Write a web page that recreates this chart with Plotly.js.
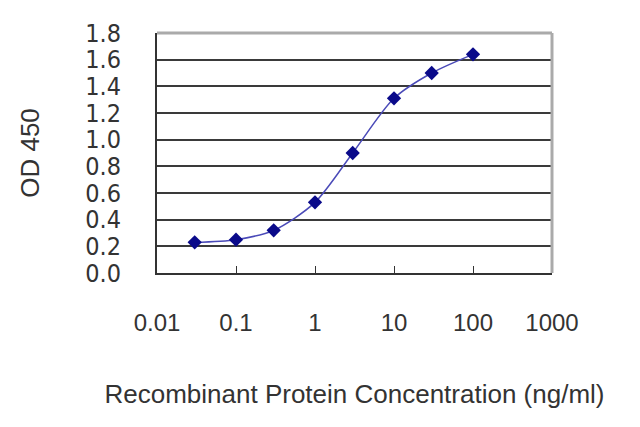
<!DOCTYPE html>
<html>
<head>
<meta charset="utf-8">
<script src="https://cdn.plot.ly/plotly-3.0.1.min.js"></script>
<style>
  html, body { margin: 0; padding: 0; background: #fff; }
  #chart { width: 640px; height: 427px; }
</style>
</head>
<body>
<div id="chart"></div>
<script>
  // Konzentrationen (ng/ml) und gemessene OD-Werte
  const concentration = [0.03, 0.1, 0.3, 1, 3, 10, 30, 100];
  const od450 = [0.23, 0.25, 0.32, 0.53, 0.9, 1.31, 1.5, 1.64];

  const xTickVals = [0.01, 0.1, 1, 10, 100, 1000];
  const xTickText = ["0.01", "0.1", "1", "10", "100", "1000"];
  const yTickVals = [0, 0.2, 0.4, 0.6, 0.8, 1.0, 1.2, 1.4, 1.6, 1.8];
  const yTickText = ["0.0", "0.2", "0.4", "0.6", "0.8", "1.0", "1.2", "1.4", "1.6", "1.8"];

  const curve = {
    x: concentration,
    y: od450,
    type: "scatter",
    mode: "lines+markers",
    line: { shape: "spline", smoothing: 0.8, color: "#4a4ab8", width: 1.5 },
    marker: { symbol: "diamond", size: 11, color: "#0a0a8a" },
    hoverinfo: "none",
  };

  const narrow = "DejaVu Sans Condensed, Liberation Sans Narrow, sans-serif";
  const regular = "Liberation Sans, Arial, sans-serif";

  const layout = {
    width: 640,
    height: 427,
    margin: { l: 157, r: 88, t: 33, b: 154 },
    paper_bgcolor: "white",
    plot_bgcolor: "white",
    showlegend: false,
    xaxis: {
      type: "log",
      range: [-2, 3],
      tickvals: xTickVals,
      ticktext: xTickText,
      ticks: "inside",
      ticklen: 7,
      tickcolor: "#333",
      showgrid: false,
      zeroline: false,
      showline: true,
      linecolor: "#333",
      linewidth: 2,
      ticklabelstandoff: 27,
      tickfont: { family: regular, size: 24, color: "#333" },
      title: {
        text: "Recombinant Protein Concentration (ng/ml)",
        font: { family: regular, size: 26, color: "#333" },
        standoff: 50,
      },
    },
    yaxis: {
      range: [0, 1.8],
      tickvals: yTickVals,
      ticktext: yTickText,
      ticks: "",
      showgrid: true,
      gridcolor: "#3a3a3a",
      gridwidth: 2,
      zeroline: false,
      showline: true,
      linecolor: "#333",
      linewidth: 2,
      ticklabelstandoff: 29,
      tickfont: { family: narrow, size: 25, color: "#333" },
      title: {
        text: "OD 450",
        font: { family: regular, size: 26, color: "#333" },
        standoff: 38,
      },
    },
    shapes: [
      // grauer Rahmen oben und rechts
      { type: "line", xref: "paper", yref: "paper", x0: 0, x1: 1, y0: 1, y1: 1,
        line: { color: "#aaaaaa", width: 3 } },
      { type: "line", xref: "paper", yref: "paper", x0: 1, x1: 1, y0: 0, y1: 1,
        line: { color: "#aaaaaa", width: 3 } },
    ],
  };

  Plotly.newPlot("chart", [curve], layout, { displayModeBar: false, staticPlot: true });
</script>
</body>
</html>
